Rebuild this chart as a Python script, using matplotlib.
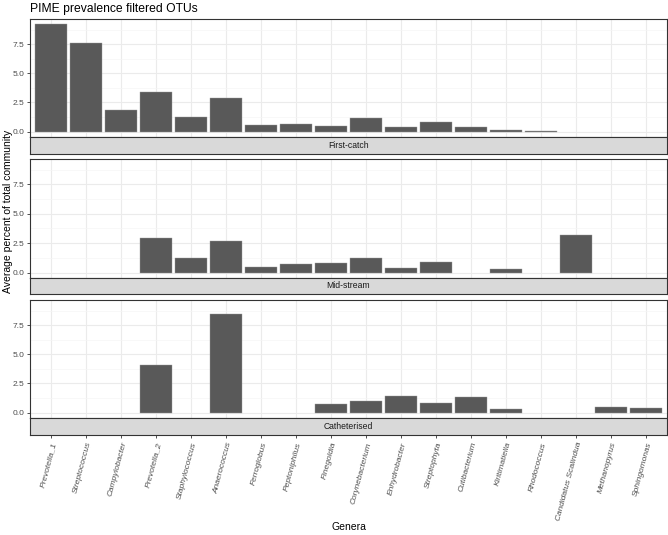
import numpy as np
import matplotlib
matplotlib.use("Agg")
import matplotlib.pyplot as plt
from matplotlib.ticker import MultipleLocator

plt.rcParams['font.family'] = ['Liberation Sans', 'DejaVu Sans']

genera = ["Prevotella_1", "Streptococcus", "Campylobacter", "Prevotella_2",
          "Staphylococcus", "Anaerococcus", "Ferroglobus", "Peptoniphilus",
          "Finegoldia", "Corynebacterium", "Enhydrobacter", "Streptophyta",
          "Cutibacterium", "Kiritimatiella", "Rhodococcus",
          "Candidatus Scalindua", "Methanopyrus", "Sphingomonas"]

# None = genus not present in that sample type
first_catch = [9.2, 7.59, 1.87, 3.41, 1.22, 2.87, 0.60, 0.62, 0.45,
               1.13, 0.37, 0.79, 0.43, 0.17, 0.09, None, None, None]
mid_stream = [None, None, None, 2.96, 1.27, 2.68, 0.51, 0.70, 0.79,
              1.27, 0.39, 0.87, None, 0.28, None, 3.22, None, None]
catheterised = [None, None, None, 4.08, None, 8.42, None, None, 0.77,
                0.97, 1.40, 0.86, 1.37, 0.31, None, None, 0.48, 0.43]

facets = ["First-catch", "Mid-stream", "Catheterised"]
series = [first_catch, mid_stream, catheterised]

W, H = 668, 535
fig = plt.figure(figsize=(W / 100, H / 100), dpi=100)

# pixel layout (top, bottom of panel, bottom of strip)
rows = [(19, 137, 154), (159, 278, 294), (300, 418, 435)]
left, right = 30, 667

x = np.arange(len(genera))
xlim = (-0.6, len(genera) - 1 + 0.6)
ymax = 9.2
ylim = (-0.05 * ymax, 1.05 * ymax)

border = "#333333"
grid_major = "#ebebeb"
grid_minor = "#f5f5f5"

def frac(l, t, r, b):
    return [l / W, 1 - b / H, (r - l) / W, (b - t) / H]

for i, (name, vals) in enumerate(zip(facets, series)):
    top, pbot, sbot = rows[i]
    ax = fig.add_axes(frac(left, top, right, pbot))
    heights = np.array([np.nan if v is None else v for v in vals], dtype=float)
    ax.bar(x, heights, width=0.9, color="#595959", edgecolor="#9a9a9a",
           linewidth=0.3, zorder=3)
    ax.set_xlim(xlim)
    ax.set_ylim(ylim)
    ax.set_xticks(x)
    ax.set_xticklabels([])
    ax.tick_params(axis="x", length=0)
    ax.yaxis.set_major_locator(MultipleLocator(2.5))
    ax.yaxis.set_minor_locator(MultipleLocator(1.25))
    ax.set_yticks([0, 2.5, 5.0, 7.5])
    ax.set_yticklabels(["0.0", "2.5", "5.0", "7.5"])
    ax.tick_params(axis="y", which="major", length=2.5, width=0.6,
                   color=border, labelsize=6, labelcolor="#4d4d4d", pad=1.5)
    ax.tick_params(axis="y", which="minor", length=0)
    ax.grid(True, which="major", color=grid_major, lw=0.8, zorder=0)
    ax.grid(True, which="minor", axis="y", color=grid_minor, lw=0.5, zorder=0)
    ax.set_axisbelow(True)
    for s in ax.spines.values():
        s.set_color(border)
        s.set_linewidth(0.8)

    # strip under each panel
    sax = fig.add_axes(frac(left, pbot, right, sbot))
    sax.set_facecolor("#d9d9d9")
    sax.set_xlim(xlim)
    sax.set_yticks([])
    for s in sax.spines.values():
        s.set_color(border)
        s.set_linewidth(0.8)
    sax.text(0.5, 0.5, name, transform=sax.transAxes, ha="center",
             va="center", fontsize=6.2, color="#1a1a1a")
    sax.set_xticks(x)
    if i == len(facets) - 1:
        sax.set_xticklabels(genera, rotation=75, ha="right", va="top",
                            rotation_mode="anchor", fontsize=6,
                            color="#4d4d4d", style="italic")
        sax.tick_params(axis="x", length=2.5, width=0.6, color=border, pad=2)
    else:
        sax.set_xticklabels([])
        sax.tick_params(axis="x", length=0)

fig.text(30 / W, 1 - 9 / H, "PIME prevalence filtered OTUs", fontsize=8.7,
         ha="left", va="center", color="black")
fig.text(349 / W, 1 - 527 / H, "Genera", fontsize=7.5,
         ha="center", va="center")
fig.text(8 / W, 1 - 211 / H, "Average percent of total community",
         fontsize=7.5, rotation=90, ha="center", va="center")

fig.savefig("out.png", dpi=100)
